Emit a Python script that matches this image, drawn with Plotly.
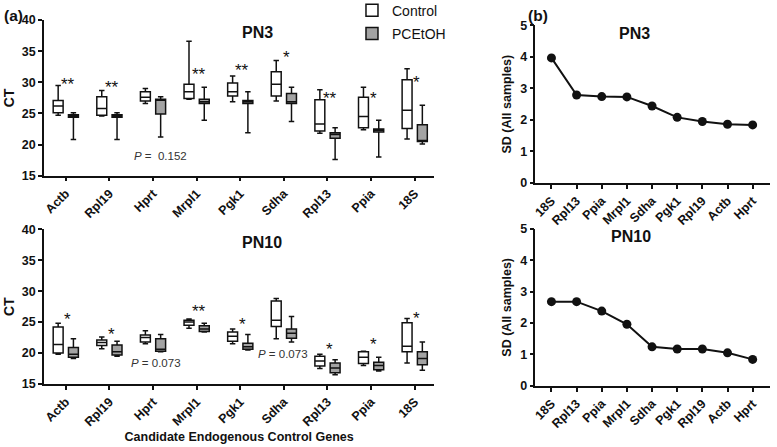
import plotly.graph_objects as go

genes = ["Actb", "Rpl19", "Hprt", "Mrpl1", "Pgk1", "Sdha", "Rpl13", "Ppia", "18S"]

# PN3 box stats (low whisker, Q1, median, Q3, high whisker)
pn3_ctrl_low = [24.7, 24.6, 26.6, 27.3, 26.9, 27.0, 21.8, 22.4, 20.9]
pn3_ctrl_q1 = [25.1, 24.7, 27.0, 27.4, 27.8, 27.8, 22.2, 22.7, 22.6]
pn3_ctrl_med = [26.2, 25.8, 27.6, 28.5, 28.5, 29.7, 23.3, 24.5, 25.5]
pn3_ctrl_q3 = [27.1, 27.7, 28.5, 29.7, 29.9, 31.7, 27.2, 27.6, 30.4]
pn3_ctrl_high = [29.5, 28.7, 29.0, 36.6, 31.0, 33.5, 28.8, 29.2, 32.2]

pn3_pce_low = [20.8, 20.8, 21.2, 23.9, 21.9, 23.7, 17.6, 18.0, 20.1]
pn3_pce_q1 = [24.4, 24.4, 24.9, 26.6, 26.6, 26.6, 21.0, 22.0, 20.5]
pn3_pce_med = [24.6, 24.6, 27.2, 26.9, 26.9, 26.9, 21.6, 22.3, 20.6]
pn3_pce_q3 = [24.8, 24.8, 27.3, 27.3, 27.1, 28.2, 21.9, 22.5, 23.2]
pn3_pce_high = [25.1, 25.1, 27.7, 29.2, 28.5, 29.2, 22.7, 23.9, 26.3]

# PN10 box stats
pn10_ctrl_low = [19.8, 20.7, 21.5, 24.0, 21.5, 22.3, 17.5, 18.0, 18.4]
pn10_ctrl_q1 = [20.0, 21.2, 21.8, 24.5, 21.9, 24.3, 17.9, 18.3, 20.2]
pn10_ctrl_med = [21.4, 21.7, 22.5, 25.0, 22.7, 25.3, 18.7, 19.3, 21.1]
pn10_ctrl_q3 = [24.2, 22.1, 22.9, 25.3, 23.4, 28.4, 19.5, 20.2, 24.9]
pn10_ctrl_high = [24.8, 22.6, 23.6, 25.5, 23.9, 28.8, 19.8, 20.3, 25.6]

pn10_pce_low = [19.1, 19.5, 20.2, 23.4, 20.5, 21.8, 16.5, 17.1, 17.2]
pn10_pce_q1 = [19.3, 19.7, 20.3, 23.5, 20.6, 22.4, 16.8, 17.3, 18.1]
pn10_pce_med = [19.8, 20.2, 20.6, 23.9, 21.0, 23.2, 17.6, 18.0, 19.1]
pn10_pce_q3 = [20.9, 21.3, 22.3, 24.4, 21.6, 23.9, 18.4, 18.5, 20.2]
pn10_pce_high = [22.3, 21.9, 23.0, 24.8, 23.0, 25.9, 18.9, 19.3, 21.8]

# significance marks and where they sit
pn3_sig = ["**", "**", "", "**", "**", "*", "**", "*", "*"]
pn3_sig_y = [30.3, 29.8, 0, 31.9, 32.6, 34.6, 28.0, 28.0, 30.6]
pn10_sig = ["*", "*", "", "**", "*", "", "*", "*", "*"]
pn10_sig_y = [26.0, 23.6, 0, 27.3, 25.2, 0, 21.3, 22.0, 26.3]

# SD ranking (panel b)
sd_genes = ["18S", "Rpl13", "Ppia", "Mrpl1", "Sdha", "Pgk1", "Rpl19", "Actb", "Hprt"]
sd_pn3 = [3.97, 2.79, 2.74, 2.73, 2.44, 2.08, 1.95, 1.86, 1.84]
sd_pn10 = [2.68, 2.68, 2.38, 1.96, 1.24, 1.17, 1.17, 1.05, 0.84]

FONT = "Liberation Sans"
BLACK = "#111111"
GREY = "#a3a3a3"

fig = go.Figure()


def add_box(name, low, q1, med, q3, high, fill, xa, ya, show):
    fig.add_trace(go.Box(
        name=name, x=genes, lowerfence=low, q1=q1, median=med, q3=q3,
        upperfence=high, fillcolor=fill, line=dict(color=BLACK, width=1.5),
        whiskerwidth=0.55, boxpoints=False, offsetgroup=name,
        legendgroup=name, showlegend=show, xaxis=xa, yaxis=ya,
        hoverinfo="skip",
    ))


add_box("Control", pn3_ctrl_low, pn3_ctrl_q1, pn3_ctrl_med, pn3_ctrl_q3, pn3_ctrl_high, "white", "x", "y", True)
add_box("PCEtOH", pn3_pce_low, pn3_pce_q1, pn3_pce_med, pn3_pce_q3, pn3_pce_high, GREY, "x", "y", True)
add_box("Control", pn10_ctrl_low, pn10_ctrl_q1, pn10_ctrl_med, pn10_ctrl_q3, pn10_ctrl_high, "white", "x2", "y2", False)
add_box("PCEtOH", pn10_pce_low, pn10_pce_q1, pn10_pce_med, pn10_pce_q3, pn10_pce_high, GREY, "x2", "y2", False)

for sd, xa, ya in [(sd_pn3, "x3", "y3"), (sd_pn10, "x4", "y4")]:
    fig.add_trace(go.Scatter(
        x=sd_genes, y=sd, mode="lines+markers", xaxis=xa, yaxis=ya,
        line=dict(color=BLACK, width=2), marker=dict(color=BLACK, size=9),
        showlegend=False, hoverinfo="skip",
    ))

tickfont = dict(family=FONT, size=12.5, color=BLACK, weight="bold")
axis_common = dict(showline=True, linecolor=BLACK, linewidth=1.5, ticks="outside",
                   ticklen=4, tickwidth=1.5, tickcolor=BLACK, showgrid=False,
                   zeroline=False, tickfont=tickfont)

left_dom = [0.0566, 0.559]
right_dom = [0.689, 0.991]

fig.update_layout(
    template="none",
    width=777, height=447,
    margin=dict(l=0, r=0, t=0, b=0, autoexpand=False),
    paper_bgcolor="white", plot_bgcolor="white",
    font=dict(family=FONT, color=BLACK),
    boxmode="group", boxgap=0.3, boxgroupgap=0.35,
    xaxis=dict(domain=left_dom, anchor="y", type="category", categoryarray=genes,
               range=[-0.5, 8.45], tickangle=-45, **axis_common),
    yaxis=dict(domain=[0.607, 0.955], anchor="x", range=[15, 40], dtick=5,
               title=dict(text="CT", font=dict(size=14, weight="bold"), standoff=4),
               **axis_common),
    xaxis2=dict(domain=left_dom, anchor="y2", type="category", categoryarray=genes,
                range=[-0.5, 8.45], tickangle=-45,
                title=dict(text="Candidate Endogenous Control Genes",
                           font=dict(size=12.5, weight="bold"), standoff=4),
                **axis_common),
    yaxis2=dict(domain=[0.141, 0.487], anchor="x2", range=[15, 40], dtick=5,
                title=dict(text="CT", font=dict(size=14, weight="bold"), standoff=4),
                **axis_common),
    xaxis3=dict(domain=right_dom, anchor="y3", type="category", categoryarray=sd_genes,
                range=[-0.64, 8.69], tickangle=-45, **axis_common),
    yaxis3=dict(domain=[0.591, 0.943], anchor="x3", range=[0, 5], dtick=1,
                title=dict(text="SD (All samples)", font=dict(size=12.5, weight="bold"), standoff=6),
                **axis_common),
    xaxis4=dict(domain=right_dom, anchor="y4", type="category", categoryarray=sd_genes,
                range=[-0.64, 8.69], tickangle=-45, **axis_common),
    yaxis4=dict(domain=[0.137, 0.488], anchor="x4", range=[0, 5], dtick=1,
                title=dict(text="SD (All samples)", font=dict(size=12.5, weight="bold"), standoff=6),
                **axis_common),
    legend=dict(x=0.453, y=1.012, xanchor="left", yanchor="top",
                font=dict(family=FONT, size=14, color=BLACK),
                bgcolor="rgba(0,0,0,0)", tracegroupgap=2, itemwidth=30),
)

ann = []
for i, (s, yv) in enumerate(zip(pn3_sig, pn3_sig_y)):
    if s:
        ann.append(dict(x=i + 0.05, y=yv, xref="x", yref="y", text=s,
                        font=dict(size=17, color=BLACK), yshift=-4))
for i, (s, yv) in enumerate(zip(pn10_sig, pn10_sig_y)):
    if s:
        ann.append(dict(x=i + 0.05, y=yv, xref="x2", yref="y2", text=s,
                        font=dict(size=17, color=BLACK), yshift=-4))

ptxt = dict(size=11.5, color="#333333")
title_font = dict(size=16, color=BLACK)
ann += [
    dict(x=2.18, y=18.2, xref="x", yref="y", text="<i>P</i> =  0.152", font=ptxt),
    dict(x=2.07, y=18.4, xref="x2", yref="y2", text="<i>P</i> = 0.073", font=ptxt),
    dict(x=4.98, y=19.8, xref="x2", yref="y2", text="<i>P</i> = 0.073", font=ptxt),
    dict(x=0.309, y=0.928, text="<b>PN3</b>", font=title_font),
    dict(x=0.309, y=0.458, text="<b>PN10</b>", font=title_font),
    dict(x=0.839, y=0.924, text="<b>PN3</b>", font=title_font),
    dict(x=0.84, y=0.472, text="<b>PN10</b>", font=title_font),
    dict(x=0.002, y=0.966, text="<b>(a)</b>", xanchor="left", font=dict(size=15.5, color=BLACK)),
    dict(x=0.677, y=0.966, text="<b>(b)</b>", xanchor="left", font=dict(size=15.5, color=BLACK)),
]
for a in ann:
    a.setdefault("xref", "paper")
    a.setdefault("yref", "paper")
    a.setdefault("showarrow", False)
    a.setdefault("yanchor", "middle")
fig.update_layout(annotations=ann)

fig.write_html("out.html", config={"displayModeBar": False},
               post_script="document.body.style.margin='0';")
